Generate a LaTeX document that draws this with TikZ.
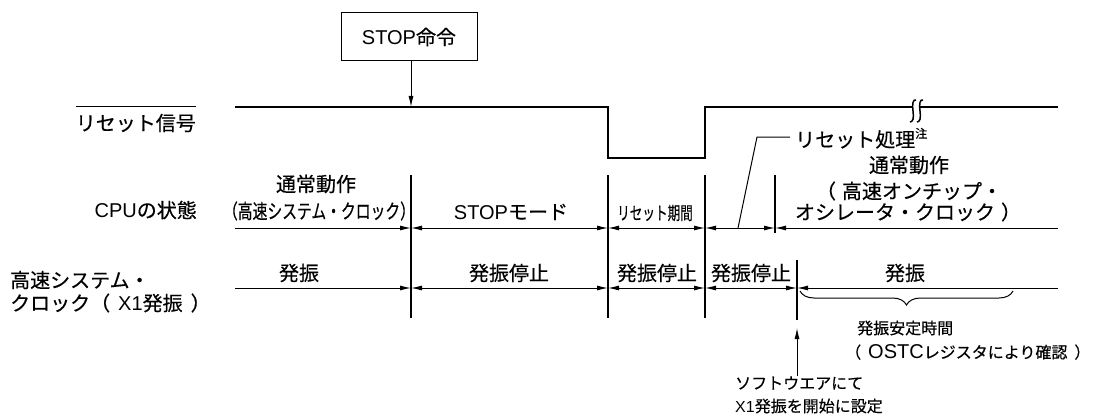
\documentclass[tikz,border=0pt]{standalone}
\usepackage{fontspec}
\setmainfont[FakeBold=0.4]{Noto Sans CJK JP}
\newfontfamily\lat{Liberation Sans}
\newfontfamily\nrwA[FakeStretch=0.74,FakeBold=0.4]{Noto Sans CJK JP}
\newfontfamily\nrwB[FakeStretch=0.7,FakeBold=0.4]{Noto Sans CJK JP}
\newcommand\lpa[1][6pt]{（\hspace{#1}}
\newcommand\rpa[1][6pt]{\hspace{#1}）}
\usetikzlibrary{arrows.meta,decorations.pathreplacing}
\tikzset{
  lbl/.style={inner sep=0pt,font=\fontsize{20}{24}\selectfont},
  note/.style={inner sep=0pt,font=\fontsize{16}{19}\selectfont},
  nrwa/.style={inner sep=0pt,font=\nrwA\fontsize{20}{24}\selectfont},
  nrwb/.style={inner sep=0pt,font=\nrwB\fontsize{18}{22}\selectfont},
  vbar/.style={line width=1.1pt},
  dimln/.style={line width=1pt},
}
\begin{document}
\begin{tikzpicture}[x=1pt,y=-1pt,>={Latex[length=11pt,width=5pt]}]
 \useasboundingbox (0,0) rectangle (1094,417);
 \node[draw,line width=1pt,minimum width=136pt,minimum height=48pt,lbl] (stop) at (409,37) {{\lat STOP}命令};
 \coordinate (hit) at (411,107);
 \draw[dimln,->] (stop.south -| hit) -- (hit);
 \draw[line width=2.6pt] (235,107) -- (608,107) -- (608,158) -- (705,158) -- (705,107) -- (1058,107);
 \fill[white] (913,102) rectangle (919,112);
 \foreach \bx in {913,920}
   \draw[line width=1.5pt] (\bx+3,100) .. controls (\bx,99) and (\bx-1,104) .. (\bx,111)
        .. controls (\bx+1,118) and (\bx,122) .. (\bx-3,122);
 \node[lbl,anchor=east] (lbsig) at (196,123) {リセット信号};
 \draw[dimln] (lbsig.west |- hit) -- (lbsig.east |- hit);
 \node[lbl,anchor=east] (lbcpu) at (197,210) {{\lat CPU}の状態};
 \node[lbl,anchor=west] (lbclk1) at (10,280) {高速システム・};
 \node[lbl,anchor=west] (lbclk2) at (10,303) {クロック\lpa[8pt]{\lat X1}発振\rpa[8pt]};
 \foreach \x in {411,608,705} \draw[vbar] (\x,175) -- (\x,318);
 \draw[vbar] (775,175) -- (775,233);
 \draw[vbar] (797,260) -- (797,320);
 \foreach \x [count=\i from 0] in {235,411,608,705,775,1058} \coordinate (c\i) at (\x,228);
 \foreach \x [count=\i from 0] in {235,411,608,705,797,1058} \coordinate (k\i) at (\x,288);
 \draw[dimln,->] (c0) -- (c1);
 \foreach \a/\b in {1/2,2/3,3/4} \draw[dimln,<->] (c\a) -- (c\b);
 \draw[dimln,<-] (c4) -- (c5);
 \draw[dimln,->] (k0) -- (k1);
 \foreach \a/\b in {1/2,2/3,3/4} \draw[dimln,<->] (k\a) -- (k\b);
 \draw[dimln,<-] (k4) -- (k5);
 \node[lbl] (cn1) at (316,184) {通常動作};
 \node[nrwa] (cn2) at (319,211) {（高速システム・クロック）};
 \node[lbl] (cstop) at (511,212) {{\lat STOP}モード};
 \node[nrwb] (crst) at (655,213) {リセット期間};
 \node[lbl] (cn3) at (909,165) {通常動作};
 \node[lbl] (cn4) at (909,191) {\lpa 高速オンチップ・};
 \node[lbl] (cn5) at (908,212) {オシレータ・クロック\rpa};
 \coordinate (rl0) at (738,228);
 \coordinate (rl1) at (757,137);
 \coordinate (rl2) at (790,137);
 \draw[dimln] (rl0) -- (rl1) -- (rl2);
 \node[lbl,anchor=base west] (lbrst) at (795,147) {リセット処理\raisebox{9pt}{\fontsize{12}{12}\selectfont 注}};
 \node[lbl] (k1t) at (299,273) {発振};
 \node[lbl] (k2t) at (509,273) {発振停止};
 \node[lbl] (k3t) at (657,273) {発振停止};
 \node[lbl] (k4t) at (751,273) {発振停止};
 \node[lbl] (k5t) at (905,273) {発振};
 \draw[dimln,decorate,decoration={brace,mirror,amplitude=14pt}] (800,291) -- (1013,291);
 \node[note,anchor=west] (stab1) at (857,328) {発振安定時間};
 \node[note,anchor=west] (stab2) at (845,352) {\lpa[7pt]{\lat\fontsize{20}{20}\selectfont OSTC}レジスタにより確認\rpa[7pt]};
 \coordinate (swtip) at (797,328);
 \node[note,anchor=west] (sw1) at (735,383) {ソフトウエアにて};
 \node[note,anchor=west] (sw2) at (735,406) {{\lat X1}発振を開始に設定};
 \draw[dimln,->] (sw1.north -| swtip) -- (swtip);
\end{tikzpicture}
\end{document}
